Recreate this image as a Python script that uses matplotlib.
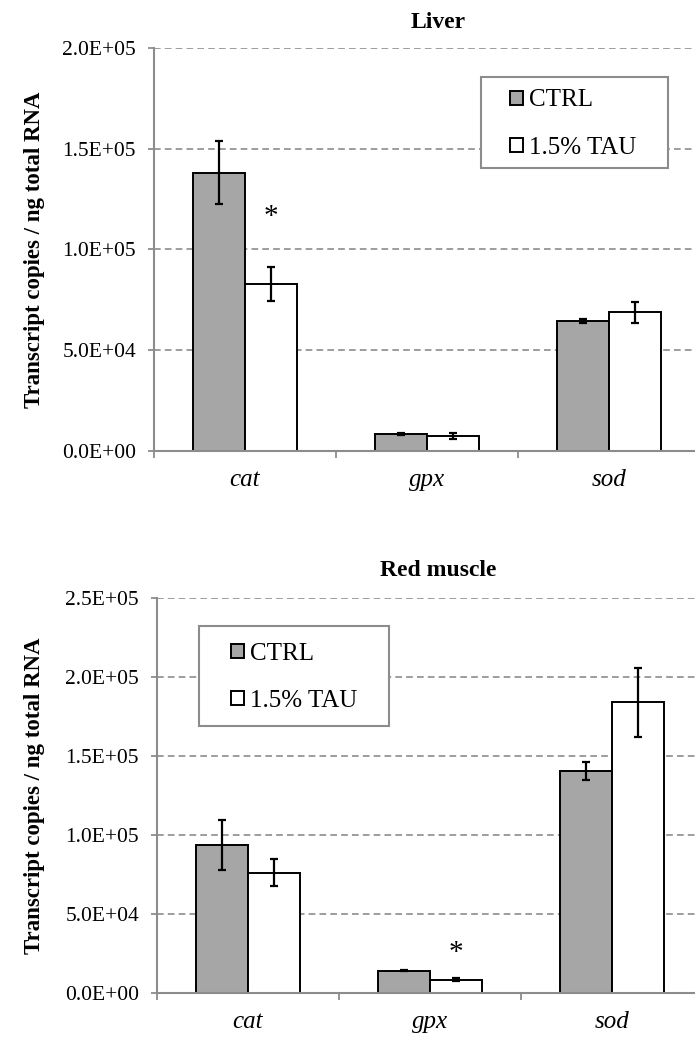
"""
Transcript copies of antioxidant genes (cat, gpx, sod) in liver and red muscle,
CTRL vs 1.5% TAU diet.

Output: out.png
"""

import matplotlib
matplotlib.use("Agg")
import matplotlib.pyplot as plt
import numpy as np
from matplotlib.patches import Rectangle
from matplotlib.ticker import FuncFormatter, FixedLocator

# Data (transcript copies / ng total RNA)
genes = ["cat", "gpx", "sod"]
groups = ["CTRL", "1.5% TAU"]

liver_ctrl = [138000, 8400, 64500]
liver_ctrl_err = [15600, 700, 800]
liver_tau = [82800, 7600, 68800]
liver_tau_err = [8600, 1500, 5300]
liver_sig = [116000, None, None]  # asterisk above TAU bar

muscle_ctrl = [93700, 14000, 140500]
muscle_ctrl_err = [16000, 300, 5500]
muscle_tau = [76000, 8500, 184000]
muscle_tau_err = [8500, 800, 22000]
muscle_sig = [None, 25000, None]

liver_ticks = [0, 50000, 100000, 150000, 200000]
muscle_ticks = [0, 50000, 100000, 150000, 200000, 250000]

W, H = 695, 1037
GRAY = "#A6A6A6"
AXGRAY = "#8C8C8C"

plt.rcParams["font.family"] = ["Liberation Serif", "DejaVu Serif"]
plt.rcParams["font.size"] = 15


def draw_panel(ax, ctrl, ctrl_err, tau, tau_err, sig, ticks, title, title_x, title_pad):
    x = np.arange(len(genes))
    w = 0.287
    err_kw = dict(ecolor="black", elinewidth=1.6, capsize=3.2, capthick=1.6)
    b1 = ax.bar(x - w / 2, ctrl, w, yerr=ctrl_err, color=GRAY, edgecolor="black",
                linewidth=1.4, error_kw=err_kw, zorder=3, label=groups[0])
    b2 = ax.bar(x + w / 2, tau, w, yerr=tau_err, color="white", edgecolor="black",
                linewidth=1.4, error_kw=err_kw, zorder=3, label=groups[1])
    for i, s in enumerate(sig):
        if s is not None:
            ax.text(x[i] + w / 2, s, "*", ha="center", va="center", fontsize=21, zorder=4)

    ax.set_xlim(-0.5, len(genes) - 0.5)
    ax.set_ylim(ticks[0], ticks[-1])
    ax.set_yticks(ticks)
    ax.yaxis.set_major_formatter(FuncFormatter(lambda v, p: f"{v:.1E}"))
    ax.set_xticks(x)
    ax.set_xticklabels(genes, style="italic", fontsize=18)
    ax.xaxis.set_minor_locator(FixedLocator(np.arange(-0.5, len(genes), 1.0)))
    ax.tick_params(axis="x", which="major", length=0, pad=13)
    ax.tick_params(axis="x", which="minor", length=5, width=1.3, color=AXGRAY)
    ax.tick_params(axis="y", length=4, width=1.3, color=AXGRAY, pad=9, labelsize=15.5)

    ax.grid(axis="y", color=AXGRAY, linestyle=(0, (4, 2.5)), linewidth=1.2, zorder=0)
    for side in ("top", "right"):
        ax.spines[side].set_visible(False)
    for side in ("left", "bottom"):
        ax.spines[side].set_color(AXGRAY)
        ax.spines[side].set_linewidth(1.5)
    ax.spines["bottom"].set_zorder(5)

    ax.set_ylabel("Transcript copies / ng total RNA", fontweight="bold", fontsize=16.5)
    ax.annotate(title, xy=(title_x, 1.0), xycoords="axes fraction",
                xytext=(0, title_pad), textcoords="offset pixels",
                ha="center", va="center", fontweight="bold", fontsize=17)
    return b1, b2


def add_legend(fig, handles, box, marker_x, text_ys):
    # box: (x0, y0, x1, y1) in pixels from top-left
    x0, y0, x1, y1 = box
    fig.patches.append(Rectangle((x0 / W, 1 - y1 / H), (x1 - x0) / W, (y1 - y0) / H,
                                 transform=fig.transFigure, facecolor="white",
                                 edgecolor=AXGRAY, linewidth=1.5, zorder=10))
    yc = (text_ys[0] + text_ys[1]) / 2
    leg = fig.legend(handles, groups, loc="center left", frameon=False,
                     bbox_to_anchor=(marker_x / W, 1 - yc / H),
                     handlelength=0.5, handleheight=0.5, handletextpad=0.25,
                     borderpad=0, borderaxespad=0, labelspacing=1.0, fontsize=18)
    leg.set_zorder(11)
    return leg


fig = plt.figure(figsize=(W / 100, H / 100), dpi=100)
ax1 = fig.add_axes([154 / W, 1 - 451 / H, 546 / W, 403 / H])
ax2 = fig.add_axes([157 / W, 1 - 993 / H, 546 / W, 395 / H])

h1 = draw_panel(ax1, liver_ctrl, liver_ctrl_err, liver_tau, liver_tau_err,
                liver_sig, liver_ticks, "Liver", 0.52, 25)
h2 = draw_panel(ax2, muscle_ctrl, muscle_ctrl_err, muscle_tau, muscle_tau_err,
                muscle_sig, muscle_ticks, "Red muscle", 0.515, 28)
ax1.yaxis.set_label_coords(-0.2, 0.5)
ax2.yaxis.set_label_coords(-0.205, 0.5)

add_legend(fig, h1, (481, 77, 668, 168), 510, (101, 147))
add_legend(fig, h2, (199, 626, 389, 726), 231, (653, 702))

fig.savefig("out.png", dpi=100)
plt.close(fig)
